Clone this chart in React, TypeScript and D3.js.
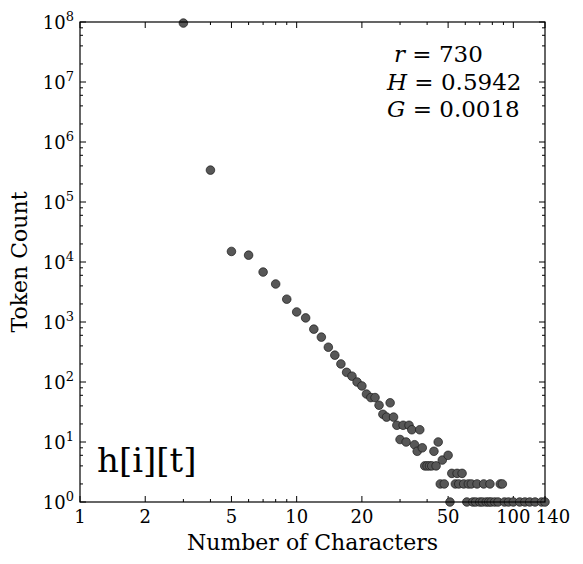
import React, { useRef, useEffect } from 'react';
import * as d3 from 'd3';

// character length of each token type (x) and how many tokens have it (y)
const charLengths = [
  3, 4, 5, 6, 7, 8, 9, 10, 11, 12, 13, 14, 15, 16, 17, 18, 19, 20, 21, 22,
  23, 24, 25, 26, 27, 28, 29, 30, 31, 32, 33, 34, 35, 36, 37, 38, 39, 40, 41, 42,
  43, 44, 45, 46, 47, 48, 50, 51, 52, 54, 55, 56, 58, 59, 61, 62, 64, 65, 67, 68,
  70, 72, 73, 75, 77, 78, 79, 82, 85, 87, 89, 91, 95, 100, 107, 113, 119, 126, 135, 140,
];
const tokenCounts = [
  96000000, 340000, 15000, 13000, 6800, 4300, 2400, 1470, 1170, 760, 560, 380, 280, 200, 145, 125, 100, 86, 63, 55,
  55, 41, 29, 26, 45, 26, 19, 11, 19, 10, 19, 16, 9, 7, 16, 8, 4, 4, 4, 4,
  7, 4, 10, 2, 5, 2, 6, 1, 3, 2, 3, 2, 3, 2, 1, 2, 2, 1, 1, 2,
  1, 1, 2, 1, 1, 2, 1, 1, 1, 2, 2, 1, 1, 1, 1, 1, 1, 1, 1, 1,
];

const xMajorTicks = [1, 2, 5, 10, 20, 50, 100, 140];
const xMinorTicks = [3, 4, 6, 7, 8, 9, 30, 40, 60, 70, 80, 90];
const yExponents = [0, 1, 2, 3, 4, 5, 6, 7, 8];
const yMinorSubs = [2, 4, 6, 8];

const statLines = [
  { sym: 'r', val: '730' },
  { sym: 'H', val: '0.5942' },
  { sym: 'G', val: '0.0018' },
];
const corpusLabel = 'h[i][t]';

export default function App() {
  const svgRef = useRef<SVGSVGElement | null>(null);

  useEffect(() => {
    if (!svgRef.current) return;
    const svg = d3.select(svgRef.current);
    svg.selectAll('*').remove();

    const width = 583;
    const height = 564;
    const margin = { top: 22, right: 38, bottom: 62, left: 80 };
    const font = 'DejaVu Serif, serif';

    const x = d3.scaleLog().domain([1, 140]).range([margin.left, width - margin.right]);
    const y = d3.scaleLog().domain([1, 1e8]).range([height - margin.bottom, margin.top]);
    const [x0, x1] = x.range();
    const [y0, y1] = y.range();

    const data = charLengths.map((n, i) => ({ n, c: tokenCounts[i] }));

    // ticks on all four sides, pointing inward
    const ticks = svg.append('g').attr('stroke', '#000').attr('stroke-width', 1);
    const xTick = (v: number, len: number) => {
      ticks.append('line').attr('x1', x(v)).attr('x2', x(v)).attr('y1', y0).attr('y2', y0 - len);
      ticks.append('line').attr('x1', x(v)).attr('x2', x(v)).attr('y1', y1).attr('y2', y1 + len);
    };
    const yTick = (v: number, len: number) => {
      ticks.append('line').attr('y1', y(v)).attr('y2', y(v)).attr('x1', x0).attr('x2', x0 + len);
      ticks.append('line').attr('y1', y(v)).attr('y2', y(v)).attr('x1', x1).attr('x2', x1 - len);
    };
    xMajorTicks.forEach(v => xTick(v, 6));
    xMinorTicks.forEach(v => xTick(v, 3));
    yExponents.forEach(e => yTick(Math.pow(10, e), 6));
    yExponents.slice(0, -1).forEach(e => yMinorSubs.forEach(s => yTick(s * Math.pow(10, e), 3)));

    // points
    svg.append('g')
      .selectAll('circle')
      .data(data)
      .enter()
      .append('circle')
      .attr('cx', d => x(d.n))
      .attr('cy', d => y(d.c))
      .attr('r', 4.3)
      .attr('fill', '#575757')
      .attr('stroke', '#1a1a1a')
      .attr('stroke-width', 0.7);

    // frame
    svg.append('rect')
      .attr('x', x0).attr('y', y1)
      .attr('width', x1 - x0).attr('height', y0 - y1)
      .attr('fill', 'none').attr('stroke', '#000').attr('stroke-width', 1.2);

    // x tick labels (the last one sits a little to the right, as in the original)
    svg.append('g')
      .selectAll('text')
      .data(xMajorTicks)
      .enter()
      .append('text')
      .attr('x', d => x(d))
      .attr('dx', (d, i) => (i === xMajorTicks.length - 1 ? 8 : 0))
      .attr('y', y0 + 21)
      .attr('text-anchor', 'middle')
      .attr('font-family', font)
      .attr('font-size', 18)
      .text(d => String(d));

    // y tick labels with superscript exponents
    const yl = svg.append('g')
      .selectAll('text')
      .data(yExponents)
      .enter()
      .append('text')
      .attr('x', x0 - 6)
      .attr('y', d => y(Math.pow(10, d)) + 7)
      .attr('text-anchor', 'end')
      .attr('font-family', font)
      .attr('font-size', 18);
    yl.append('tspan').text('10');
    yl.append('tspan').attr('dy', -8).attr('font-size', 13).text(d => String(d));

    // axis titles
    svg.append('text')
      .attr('x', (x0 + x1) / 2)
      .attr('y', 550)
      .attr('text-anchor', 'middle')
      .attr('font-family', font)
      .attr('font-size', 22)
      .text('Number of Characters');
    svg.append('text')
      .attr('transform', `translate(27, ${(y0 + y1) / 2}) rotate(-90)`)
      .attr('text-anchor', 'middle')
      .attr('font-family', font)
      .attr('font-size', 22)
      .text('Token Count');

    // stats block
    const st = svg.append('g')
      .selectAll('text')
      .data(statLines)
      .enter()
      .append('text')
      .attr('x', (d, i) => (i === 0 ? 394 : 387))
      .attr('y', (d, i) => 62 + i * 27.5)
      .attr('font-family', font)
      .attr('font-size', 23);
    st.append('tspan').attr('font-style', 'italic').text(d => d.sym);
    st.append('tspan').text(d => ` = ${d.val}`);

    // corpus label
    svg.append('text')
      .attr('x', 97)
      .attr('y', 472)
      .attr('font-family', font)
      .attr('font-size', 34)
      .text(corpusLabel);
  }, []);

  return (
    <div style={{ position: 'absolute', left: 0, top: 0, background: '#fff' }}>
      <svg ref={svgRef} width={583} height={564} style={{ display: 'block' }} />
    </div>
  );
}
